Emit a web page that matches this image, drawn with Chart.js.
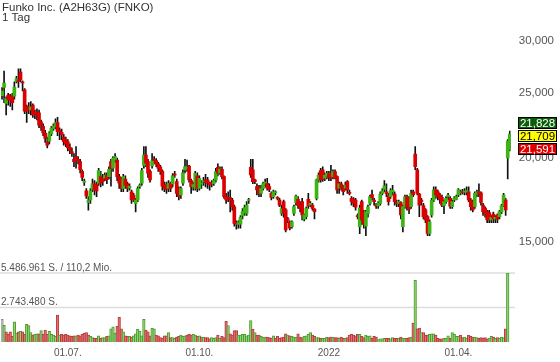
<!DOCTYPE html>
<html><head><meta charset="utf-8">
<script src="https://cdn.jsdelivr.net/npm/chart.js@4/dist/chart.umd.min.js"></script>
<style>
html,body{margin:0;padding:0;background:#fff;}
#wrap{position:relative;width:560px;height:362px;overflow:hidden;}
canvas{position:absolute;left:0;top:0;}
</style></head><body>
<div id="wrap"><canvas id="price" width="560" height="362"></canvas><canvas id="vol" width="560" height="362"></canvas></div>
<script>
const chartTitle = 'Funko Inc. (A2H63G) (FNKO)';
const chartSubtitle = '1 Tag';

const open = [
24.8,25.5,24.15,24.85,24.8,24.7,24.75,26.05,26.2,26.9,
25.95,25.3,23.85,23.85,23.6,24.0,23.45,23.4,23.37,22.65,
22.3,21.8,21.15,21.2,21.75,22.15,22.28,22.6,22.0,21.85,
21.5,21.3,21.15,20.75,20.45,19.9,20.1,19.9,19.75,19.1,
18.4,17.85,17.15,17.3,17.95,18.3,18.25,18.33,18.75,18.65,
18.65,18.85,18.75,19.75,19.3,19.86,19.86,18.75,18.54,18.0,
18.6,18.3,18.02,17.8,17.6,17.1,17.3,18.12,18.33,19.5,
20.2,19.75,19.1,19.45,19.9,19.82,19.6,19.4,19.1,18.2,
18.25,18.0,18.33,18.28,18.9,18.43,18.0,17.6,18.33,19.19,
19.3,19.45,18.5,18.12,18.0,18.8,18.0,18.27,18.4,18.54,
18.54,18.33,18.37,18.3,18.54,19.36,19.0,19.23,18.75,17.5,
17.45,17.45,17.3,16.9,16.0,15.9,15.92,16.38,16.58,16.52,
17.27,19.36,19.19,18.54,18.12,18.08,17.7,18.0,18.3,18.33,
18.12,17.7,17.5,17.74,17.45,17.3,16.52,17.2,16.72,16.19,
16.05,15.78,16.52,17.15,17.34,17.0,17.2,16.19,16.34,17.34,
17.0,17.0,16.76,17.4,18.54,19.15,19.19,18.65,18.8,18.93,
18.97,18.75,19.08,18.75,18.02,18.29,18.02,18.02,18.43,17.77,
17.4,17.34,17.3,16.38,15.78,17.2,16.6,15.8,16.5,17.1,
17.62,17.3,16.97,16.95,17.1,17.7,17.95,17.8,17.6,17.5,
17.8,17.66,17.15,17.1,17.15,15.78,16.91,17.5,17.4,16.91,
17.8,20.27,19.19,17.66,17.3,16.97,16.72,16.34,15.42,16.43,
17.3,17.91,17.8,17.6,17.46,16.97,17.2,17.5,17.4,16.91,
17.3,17.34,17.6,17.73,17.8,17.78,17.78,17.8,17.3,17.2,
16.91,17.7,17.8,17.74,17.0,16.82,16.62,16.57,16.15,16.48,
16.2,16.43,16.34,16.62,16.95,17.3,20.0,20.6];
const high = [
25.5,27.0,24.7,25.0,24.9,25.0,26.0,26.5,27.2,27.2,
26.1,25.4,24.0,24.2,24.3,24.1,23.6,23.7,23.6,22.8,
22.5,22.0,21.5,21.9,22.3,22.5,22.9,23.0,22.2,22.1,
21.7,21.5,21.3,21.0,20.7,20.3,20.8,20.1,19.9,19.2,
18.6,18.0,17.5,18.0,18.6,18.5,18.4,19.3,19.1,18.9,
19.0,19.0,19.4,19.9,20.1,20.3,20.0,18.9,18.7,18.9,
18.8,18.4,18.3,17.9,17.7,17.4,18.1,18.3,19.3,20.8,
20.8,19.9,19.2,20.3,20.1,19.95,19.7,19.5,19.2,18.4,
18.4,18.5,18.4,18.95,19.1,18.6,18.1,18.1,19.2,19.9,
19.85,19.5,18.6,18.4,19.1,19.0,18.8,18.5,18.7,18.9,
18.7,18.4,18.5,18.6,19.3,19.6,19.4,19.4,18.8,17.7,
17.8,17.9,17.4,17.0,16.1,16.1,16.4,16.8,17.0,17.2,
17.4,19.9,19.9,18.6,18.3,18.2,18.2,18.4,18.6,18.65,
18.3,17.8,17.9,17.85,17.5,17.4,17.0,17.3,16.8,16.3,
16.1,16.1,17.0,17.6,17.5,17.2,17.4,16.5,16.9,17.7,
17.2,17.1,16.8,18.6,19.0,19.3,19.4,19.0,19.1,19.1,
19.5,19.2,19.2,18.8,18.4,18.4,18.2,18.4,18.5,17.9,
17.5,17.45,17.4,16.5,17.0,17.3,16.7,16.7,17.0,17.6,
17.9,17.4,17.1,17.2,17.8,18.0,18.5,18.3,17.7,18.0,
18.2,17.8,17.3,17.3,17.2,17.0,17.6,17.6,17.5,17.9,
17.9,20.8,19.3,17.7,17.4,17.1,16.8,16.4,16.15,17.4,
18.1,18.1,17.9,17.7,17.6,17.3,17.5,17.7,17.5,17.3,
17.5,17.6,18.0,17.9,17.95,18.0,18.1,18.1,17.4,17.3,
17.8,17.9,18.3,17.8,17.1,16.9,16.7,16.7,16.4,16.6,
16.4,16.5,16.7,17.05,17.7,17.4,21.3,21.95];
const low = [
24.5,24.2,23.2,24.0,23.9,23.6,24.5,25.9,25.5,26.0,
25.2,23.3,22.6,23.3,23.2,23.0,22.9,22.8,22.2,22.0,
21.6,21.1,20.7,21.0,21.6,22.0,22.1,21.6,21.3,21.3,
20.9,20.8,20.5,20.3,20.1,19.4,19.3,19.6,19.0,18.5,
18.2,17.4,16.7,17.1,17.8,17.6,17.5,18.2,18.1,18.2,
18.5,18.3,18.6,18.15,19.1,19.7,18.5,18.0,17.8,17.8,
18.0,17.8,17.9,17.1,17.2,16.6,17.2,18.0,18.2,19.3,
19.4,18.7,18.4,19.3,19.6,19.4,19.1,18.9,17.9,17.8,
17.7,17.8,17.8,18.1,18.7,17.5,17.3,17.4,18.2,19.0,
19.1,18.4,17.7,17.9,17.9,17.8,17.9,18.0,18.2,18.1,
18.0,17.9,18.1,18.2,18.4,18.8,18.9,18.6,17.4,17.1,
17.2,16.6,16.7,15.8,15.65,15.7,15.7,16.2,16.4,16.4,
17.1,18.7,18.3,18.3,17.6,17.5,17.5,17.9,18.1,17.9,
17.8,17.3,17.4,17.6,17.3,16.9,16.4,16.3,15.5,16.0,
15.6,15.7,16.4,17.0,16.8,16.6,16.15,16.1,16.2,16.8,
16.9,16.7,16.2,17.3,18.4,18.4,18.45,18.5,18.6,18.5,
18.5,18.6,18.6,17.7,17.7,17.9,17.6,17.9,17.7,17.6,
17.0,16.9,16.7,16.2,15.4,15.9,15.7,15.3,16.3,17.0,
17.3,17.0,16.8,16.8,17.0,17.6,17.8,17.5,17.0,17.4,
17.6,17.0,16.9,16.9,16.2,15.5,16.8,16.7,16.5,16.8,
17.5,19.2,17.6,16.34,17.0,16.2,16.0,15.3,15.3,16.3,
17.2,17.4,17.3,17.1,16.9,16.5,17.1,17.3,16.8,16.8,
17.2,17.3,17.5,17.6,17.65,17.6,17.6,17.2,16.7,16.6,
16.8,17.5,17.5,17.0,16.4,16.3,16.0,16.0,16.0,16.0,
16.0,16.0,16.2,16.5,16.9,16.4,18.6,20.5];
const close = [
25.2,25.9,24.55,24.43,24.4,24.2,25.55,26.3,26.05,26.2,
25.9,23.5,23.5,23.6,23.85,23.2,23.2,23.2,22.4,22.4,
21.8,21.4,20.9,21.75,22.15,22.33,22.6,21.9,21.9,21.65,
21.15,21.0,20.7,20.55,20.32,19.75,19.85,19.82,19.2,18.7,
18.45,17.55,17.27,17.85,18.3,17.9,17.85,19.15,18.33,18.45,
18.85,18.55,19.23,19.3,19.97,20.09,18.75,18.33,18.0,18.75,
18.2,18.0,18.15,17.3,17.3,17.3,18.0,18.22,19.15,20.2,
19.64,18.97,18.54,19.8,19.82,19.6,19.3,19.1,18.15,18.0,
17.95,18.33,18.0,18.8,18.85,17.7,17.5,18.0,19.0,19.41,
19.35,18.54,18.12,18.25,18.97,18.0,18.65,18.33,18.5,18.37,
18.33,18.22,18.29,18.5,19.08,18.97,19.25,18.75,17.5,17.3,
17.4,17.3,16.9,15.96,15.92,16.0,16.3,16.62,16.85,17.0,
17.3,18.86,18.43,18.43,17.91,17.7,18.0,18.29,18.4,18.02,
17.95,17.46,17.8,17.78,17.4,17.0,16.8,16.52,15.6,16.15,
15.7,16.05,16.91,17.54,17.0,16.8,16.43,16.43,16.82,16.95,
17.1,16.8,16.62,18.54,18.86,18.54,18.58,18.86,18.97,18.7,
18.65,19.08,18.7,17.91,18.29,18.02,17.8,18.22,17.91,17.7,
17.2,17.1,16.87,16.34,16.82,16.15,15.9,16.62,16.9,17.5,
17.44,17.2,16.93,17.1,17.66,17.85,18.16,17.7,17.2,17.87,
17.9,17.2,17.08,17.2,16.43,16.91,17.5,16.91,16.76,17.7,
17.6,19.41,17.7,17.0,17.2,16.34,16.15,15.42,16.05,17.3,
17.91,17.6,17.5,17.34,17.0,17.2,17.4,17.6,16.93,17.2,
17.4,17.5,17.91,17.8,17.75,17.82,17.87,17.3,16.91,16.72,
17.7,17.8,17.7,17.15,16.62,16.52,16.15,16.15,16.3,16.2,
16.3,16.19,16.62,16.95,17.6,16.72,21.2,21.709];
// daily volume in millions of shares
const volumeMio = [
1.8,1.33,0.8,0.6,0.8,0.45,1.6,0.7,0.8,0.85,
0.8,0.6,1.4,1.3,0.75,0.55,0.6,0.65,0.65,0.9,
0.6,0.95,0.6,0.85,0.6,0.55,0.45,2.15,0.55,0.6,
0.55,0.6,0.55,0.5,0.45,0.5,0.5,0.55,0.5,0.6,
0.7,0.75,0.55,0.45,0.35,0.3,0.3,0.5,0.3,0.35,
0.35,0.45,0.5,1.05,1.2,0.7,1.25,1.97,1.05,0.8,
0.5,0.45,0.45,0.4,0.5,0.65,1.0,0.85,0.5,1.8,
0.95,0.8,0.5,1.1,1.05,0.55,0.5,0.35,0.3,0.5,
0.5,0.75,0.35,0.35,0.3,0.4,0.45,0.55,0.45,0.5,
0.55,0.6,0.55,0.6,0.55,0.45,0.5,0.4,0.4,0.35,
0.35,0.25,0.35,0.3,0.35,0.55,0.3,0.45,0.35,1.65,
1.3,0.65,0.55,0.9,0.9,0.55,0.55,0.6,0.6,0.5,
0.55,1.7,1.0,0.75,0.55,0.55,0.45,0.4,0.4,0.4,
0.35,0.3,0.5,0.3,0.45,0.3,0.35,0.4,0.65,0.55,
0.5,0.45,0.4,0.4,0.65,0.4,0.35,0.45,0.5,0.6,
0.75,0.55,0.45,0.35,0.35,0.3,0.3,0.3,0.4,0.35,
0.4,0.4,0.35,0.35,0.3,0.4,0.3,0.3,0.35,0.55,
0.6,0.55,0.5,0.6,0.6,0.45,0.35,0.55,0.45,0.5,
0.3,0.45,0.4,0.2,0.25,0.25,0.3,0.3,0.3,0.25,
0.35,0.3,0.3,0.3,0.4,0.3,0.3,0.3,0.35,0.4,
1.5,4.9,1.05,1.1,0.75,0.75,0.55,0.55,0.6,0.65,
0.65,0.55,0.3,0.25,0.25,0.3,0.3,0.5,0.3,0.75,
0.6,0.45,0.45,0.55,0.35,0.4,0.3,0.55,0.45,0.4,
0.4,0.35,0.3,0.35,0.3,0.35,0.25,0.3,0.45,0.4,
0.3,0.35,0.3,0.4,0.35,1.05,5.486961,null];

const priceTicks = [15, 20, 25, 30];
const xTickIndex = [32, 96, 159, 222];
const xTickText = ['01.07.', '01.10.', '2022', '01.04.'];
const quoteHigh = 21.828, quoteLast = 21.709, quoteLow = 21.591;
const maxVolume = 5486961;
const maxTurnover = '110,2 Mio.';

const FONT = 'Arial, "Liberation Sans", sans-serif';
const GREEN = '#3cb414', RED = '#dc0000';
const PLOT_LEFT = 1, AXIS_W = 49.2, GRID_RIGHT = 515;
const idx = close.map((_, i) => i);
const labels = idx.map(String);

function fmtPrice(v) { return Number(v).toFixed(3).replace('.', ','); }
function fmtInt(n) { return Math.round(n).toString().replace(/\B(?=(\d{3})+(?!\d))/g, '.'); }

const overlayPlugin = {
  id: 'overlay',
  afterDraw(chart) {
    const ctx = chart.ctx;
    ctx.save();
    ctx.font = '11.5px ' + FONT;
    ctx.fillStyle = '#333';
    ctx.textAlign = 'left';
    ctx.textBaseline = 'alphabetic';
    ctx.fillText(chartTitle, 2, 11);
    ctx.fillText(chartSubtitle, 2, 21);
    const y = chart.scales.y.getPixelForValue(quoteLast);
    const boxes = [[quoteHigh, '#0b5d0b', '#fff', -1], [quoteLast, '#ffff00', '#000', 0], [quoteLow, '#dd0000', '#fff', 1]];
    const x0 = 518, w = 39, h = 12;
    const base = Math.round(y - 4.3);
    boxes.forEach(([v, bg, fg, k]) => {
      const top = base + k * 13;
      ctx.fillStyle = bg;
      ctx.fillRect(x0, top, w, h);
      ctx.strokeStyle = '#000';
      ctx.lineWidth = 1;
      ctx.strokeRect(x0 + 0.5, top + 0.5, w - 1, h - 1);
      ctx.fillStyle = fg;
      ctx.textAlign = 'center';
      ctx.textBaseline = 'middle';
      ctx.fillText(fmtPrice(v), x0 + w / 2, top + h / 2 + 0.5);
    });
    ctx.restore();
  }
};

new Chart(document.getElementById('price'), {
  type: 'bar',
  data: {
    labels,
    datasets: [
      { label: 'body', order: 0, grouped: false, barThickness: 3, minBarLength: 1,
        data: idx.map(i => [open[i], close[i]]),
        backgroundColor: idx.map(i => close[i] >= open[i] ? GREEN : RED) },
      { label: 'wick', order: 1, grouped: false, barThickness: 1,
        data: idx.map(i => [low[i], high[i]]),
        backgroundColor: '#111' }
    ]
  },
  options: {
    responsive: false, animation: false, events: [],
    layout: { padding: { top: 20, bottom: 107, left: PLOT_LEFT, right: 0 } },
    plugins: { legend: { display: false }, tooltip: { enabled: false } },
    scales: {
      x: { type: 'category', offset: true, display: false },
      y: { type: 'logarithmic', position: 'right', min: 14.31, max: 32.19,
        afterBuildTicks: s => { s.ticks = priceTicks.map(v => ({ value: v })); },
        afterFit: s => { s.width = AXIS_W; },
        grid: { display: false, drawTicks: false }, border: { display: false },
        ticks: { padding: 8, color: '#555', font: { family: FONT, size: 11.5 }, callback: v => fmtPrice(v) } }
    }
  },
  plugins: [overlayPlugin]
});

const volPlugin = {
  id: 'volLabels',
  beforeDatasetsDraw(chart) {
    const ctx = chart.ctx, s = chart.scales.y;
    ctx.save();
    ctx.strokeStyle = '#dcdcdc';
    ctx.lineWidth = 1.5;
    [maxVolume / 2e6, maxVolume / 1e6].forEach(v => {
      const y = s.getPixelForValue(v);
      ctx.beginPath(); ctx.moveTo(0, y); ctx.lineTo(GRID_RIGHT, y); ctx.stroke();
    });
    ctx.restore();
  },
  afterDraw(chart) {
    const ctx = chart.ctx, s = chart.scales.y;
    ctx.save();
    ctx.font = '10px ' + FONT;
    ctx.fillStyle = '#555';
    ctx.textAlign = 'left';
    ctx.textBaseline = 'alphabetic';
    ctx.fillText(fmtInt(maxVolume) + ' S. / ' + maxTurnover, 1, s.getPixelForValue(maxVolume / 1e6) - 2.5);
    ctx.fillText(fmtInt(Math.floor(maxVolume / 2)) + ' S.', 1, s.getPixelForValue(maxVolume / 2e6) - 2.5);
    ctx.restore();
  }
};

function volUp(i) { return i === 0 ? null : close[i] >= close[i - 1]; }

new Chart(document.getElementById('vol'), {
  type: 'bar',
  data: {
    labels,
    datasets: [{
      grouped: false, barThickness: 2.6,
      data: volumeMio,
      backgroundColor: idx.map(i => volUp(i) === null ? '#c9c9c9' : (volUp(i) ? '#93d47a' : '#df7474')),
      borderColor: idx.map(i => volUp(i) === null ? '#8a8a8a' : (volUp(i) ? '#4c9d2c' : '#b83a3a')),
      borderWidth: { left: 1, right: 1, top: 1, bottom: 0 }
    }]
  },
  options: {
    responsive: false, animation: false, events: [],
    layout: { padding: { top: 273, bottom: 0, left: PLOT_LEFT, right: 0 } },
    plugins: { legend: { display: false }, tooltip: { enabled: false } },
    scales: {
      x: { type: 'category', offset: true,
        afterFit: s => { s.height = 20; },
        grid: { display: false, drawTicks: false }, border: { display: false },
        ticks: { autoSkip: false, maxRotation: 0, minRotation: 0, padding: 5, color: '#555', font: { family: FONT, size: 10 },
          callback: (v, i) => { const k = xTickIndex.indexOf(i); return k >= 0 ? xTickText[k] : null; } } },
      y: { position: 'right', min: 0, max: maxVolume / 1e6,
        afterFit: s => { s.width = AXIS_W; },
        ticks: { display: false },
        grid: { display: false, drawTicks: false }, border: { display: false } }
    }
  },
  plugins: [volPlugin]
});
</script>
</body></html>
